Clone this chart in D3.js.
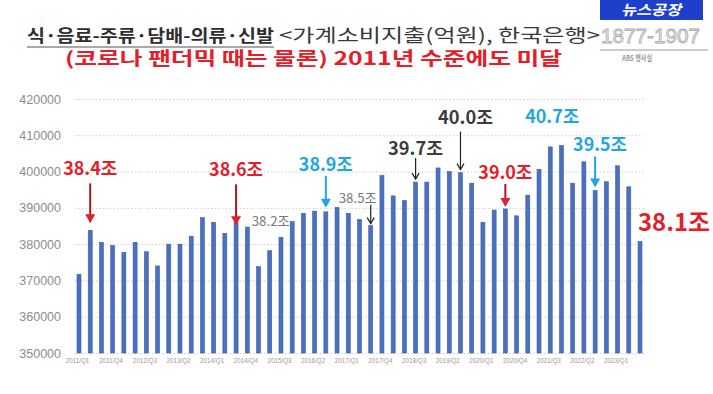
<!DOCTYPE html>
<html>
<head>
<meta charset="utf-8">
<script src="https://cdn.jsdelivr.net/npm/d3@7"></script>
<style>
  html, body { margin: 0; padding: 0; background: #ffffff; }
  svg { display: block; }
</style>
</head>
<body>
<div id="chart"></div>
<script>
// ---------- data ----------
const quarters = [
  "2011/Q1","2011/Q2","2011/Q3","2011/Q4",
  "2012/Q1","2012/Q2","2012/Q3","2012/Q4",
  "2013/Q1","2013/Q2","2013/Q3","2013/Q4",
  "2014/Q1","2014/Q2","2014/Q3","2014/Q4",
  "2015/Q1","2015/Q2","2015/Q3","2015/Q4",
  "2016/Q1","2016/Q2","2016/Q3","2016/Q4",
  "2017/Q1","2017/Q2","2017/Q3","2017/Q4",
  "2018/Q1","2018/Q2","2018/Q3","2018/Q4",
  "2019/Q1","2019/Q2","2019/Q3","2019/Q4",
  "2020/Q1","2020/Q2","2020/Q3","2020/Q4",
  "2021/Q1","2021/Q2","2021/Q3","2021/Q4",
  "2022/Q1","2022/Q2","2022/Q3","2022/Q4",
  "2023/Q1","2023/Q2","2023/Q3"
];
const spending = [
  371700, 383800, 380500, 379600,
  377700, 380500, 377900, 374000,
  380000, 380000, 382200, 387300,
  386000, 383000, 386000, 384700,
  373800, 378200, 381900, 386200,
  388500, 389100, 388900, 390100,
  388500, 386800, 385100, 398900,
  393300, 392000, 397100, 397100,
  401000, 400000, 399700, 396800,
  386000, 389400, 389700, 387800,
  393500, 400600, 406800, 407200,
  396800, 402700, 394800, 397200,
  401600, 395800, 380700
];
const yTicks = [350000, 360000, 370000, 380000, 390000, 400000, 410000, 420000];
const xTickLabels = ["2011/Q1","2011/Q4","2012/Q3","2013/Q2","2014/Q1","2014/Q4","2015/Q3",
  "2016/Q2","2017/Q1","2017/Q4","2018/Q3","2019/Q2","2020/Q1","2020/Q4","2021/Q3","2022/Q2","2023/Q1"];

const titleMain = "식·음료-주류·담배-의류·신발";
const titleSource = "<가계소비지출(억원), 한국은행>";
const subtitle = "(코로나 팬더믹 때는 물론) 2011년 수준에도 미달";

// annotations: bar index + text + style group
const annoIndex = [1, 14, 17, 22, 26, 30, 34, 38, 42, 46, 50];
const annoText  = ["38.4조","38.6조","38.2조","38.9조","38.5조","39.7조","40.0조","39.0조","40.7조","39.5조","38.1조"];
const annoKind  = ["red","red","grey","cyan","greyArrow","dark","dark","red","cyan","cyan","redBig"];

// ---------- layout ----------
const W = 713, H = 394;
const svg = d3.select("#chart").append("svg").attr("width", W).attr("height", H);

const x = d3.scalePoint().domain(quarters).range([79, 640]);
const y = d3.scaleLinear().domain([350000, 420000]).range([353, 99]);

const KR = "'Noto Sans CJK KR', 'Noto Sans', sans-serif";

// gridlines
svg.append("g").selectAll("line").data(yTicks).join("line")
  .attr("x1", 75).attr("x2", 645)
  .attr("y1", d => y(d) + 0.5).attr("y2", d => y(d) + 0.5)
  .attr("stroke", "#cfcfcf").attr("stroke-width", 1)
  .attr("stroke-dasharray", "1.5,2");

// y axis labels
const yAxis = d3.axisLeft(y).tickValues(yTicks).tickSize(0).tickPadding(0).tickFormat(d3.format("d"));
const gy = svg.append("g").attr("transform", "translate(61,0)").call(yAxis);
gy.select(".domain").remove();
gy.selectAll("text").attr("fill", "#8c8c8c")
  .style("font-family", "'Liberation Sans', Arial, sans-serif").style("font-size", "12.5px");

// x axis labels
const xAxis = d3.axisBottom(x).tickValues(xTickLabels).tickSize(0).tickPadding(0);
const gx = svg.append("g").attr("transform", "translate(-2,359)").call(xAxis);
gx.select(".domain").remove();
gx.selectAll("text").attr("fill", "#9a9a9a")
  .style("font-family", "'Liberation Sans', Arial, sans-serif").style("font-size", "6.3px");

// bars
const bw = 4;
svg.append("g").selectAll("rect").data(spending).join("rect")
  .attr("x", (d, i) => x(quarters[i]) - bw / 2)
  .attr("y", d => y(d))
  .attr("width", bw)
  .attr("height", d => y(350000) - y(d))
  .attr("fill", "#4a70bf")
  .attr("stroke", "#3d5ea8").attr("stroke-width", 0.6);

// ---------- annotations ----------
const styles = {
  red:       { color: "#e2202a", size: 18, weight: 700, len: 54, labelDy: -47, a1: -39, a2: -4, arrow: "solid", dx: 0 },
  cyan:      { color: "#21a6e2", size: 18, weight: 700, len: 54, labelDy: -42, a1: -36, a2: -4, arrow: "solid", dx: 0 },
  dark:      { color: "#3c3c3c", size: 18, weight: 700, len: 55, labelDy: -27, a1: -24, a2: -3, arrow: "open", dx: 0 },
  grey:      { color: "#7a7a7a", size: 13, weight: 400, len: 38, labelDy: -25, arrow: null, dx: 1 },
  greyArrow: { color: "#7a7a7a", size: 13, weight: 400, len: 38, labelDy: -23, a1: -21, a2: -2, arrow: "open", dx: -13 },
  redBig:    { color: "#e2202a", size: 24, weight: 700, len: 72, labelDy: -11, arrow: null, dx: 34 }
};
// per-annotation tweaks (layout only)
const tweak = {
  "38.4조": { labelDy: -55, a1: -47, a2: -7 },
  "38.6조": { labelDy: -46, a1: -38, a2: 3 },
  "38.9조": { labelDy: -41, a1: -36, a2: -4 },
  "39.0조": { labelDy: -30, a1: -25, a2: -2 },
  "39.7조": { labelDy: -27, a1: -24, a2: -3 },
  "40.0조": { labelDy: -49, a1: -41, a2: -3, dx: 5 },
  "39.5조": { labelDy: -39, a1: -34, a2: -3, dx: 5 },
  "40.7조": { labelDy: -24, dx: 2, arrow: null }
};

const ag = svg.append("g");
annoIndex.forEach((idx, k) => {
  const txt = annoText[k];
  const st = Object.assign({}, styles[annoKind[k]], tweak[txt] || {});
  const bx = x(quarters[idx]);
  const by = y(spending[idx]);
  ag.append("text")
    .attr("x", bx + st.dx).attr("y", by + st.labelDy)
    .attr("text-anchor", "middle")
    .attr("textLength", st.len).attr("lengthAdjust", "spacingAndGlyphs")
    .attr("fill", st.color)
    .style("font-family", KR).style("font-size", st.size + "px").style("font-weight", st.weight)
    .text(txt);
  if (st.arrow) {
    const y1 = by + st.a1, y2 = by + st.a2;
    const ac = st.arrow === "open" ? "#222" : st.color;
    if (st.arrow === "solid") {
      const hl = 9, hw = 5;
      ag.append("line").attr("x1", bx).attr("x2", bx).attr("y1", y1).attr("y2", y2 - hl + 1)
        .attr("stroke", annoKind[k] === "red" ? "#b0141c" : ac).attr("stroke-width", 2);
      ag.append("path")
        .attr("d", `M${bx - hw},${y2 - hl} L${bx + hw},${y2 - hl} L${bx},${y2} Z`)
        .attr("fill", ac);
    } else {
      ag.append("line").attr("x1", bx).attr("x2", bx).attr("y1", y1).attr("y2", y2)
        .attr("stroke", ac).attr("stroke-width", 1.2);
      ag.append("path")
        .attr("d", `M${bx - 3.5},${y2 - 6} L${bx},${y2} L${bx + 3.5},${y2 - 6}`)
        .attr("fill", "none").attr("stroke", ac).attr("stroke-width", 1.2);
    }
  }
});

// ---------- titles ----------
svg.append("text").attr("x", 27).attr("y", 42)
  .attr("textLength", 247).attr("lengthAdjust", "spacingAndGlyphs")
  .attr("fill", "#2e2e2e")
  .style("font-family", KR).style("font-size", "17px").style("font-weight", 700)
  .text(titleMain);
svg.append("line").attr("x1", 27).attr("x2", 274).attr("y1", 47).attr("y2", 47)
  .attr("stroke", "#555").attr("stroke-width", 1.2);
svg.append("text").attr("x", 279).attr("y", 42)
  .attr("textLength", 321).attr("lengthAdjust", "spacingAndGlyphs")
  .attr("fill", "#3a3a3a")
  .style("font-family", KR).style("font-size", "18px").style("font-weight", 400)
  .text(titleSource);
svg.append("text").attr("x", 65).attr("y", 65)
  .attr("textLength", 497).attr("lengthAdjust", "spacingAndGlyphs")
  .attr("fill", "#e2202a")
  .style("font-family", KR).style("font-size", "18px").style("font-weight", 700)
  .text(subtitle);

// ---------- logo (top-right) ----------
svg.append("rect").attr("x", 600).attr("y", 0).attr("width", 103).attr("height", 20).attr("fill", "#1e3fcc");
svg.append("text").attr("x", 651).attr("y", 15).attr("text-anchor", "middle")
  .attr("textLength", 60).attr("lengthAdjust", "spacingAndGlyphs")
  .attr("fill", "#ffffff").style("font-family", KR).style("font-size", "14px")
  .style("font-weight", 700).style("font-style", "italic").text("뉴스공장");
svg.append("text").attr("x", 601).attr("y", 43)
  .attr("textLength", 99).attr("lengthAdjust", "spacingAndGlyphs")
  .attr("fill", "#f4f4f4").attr("stroke", "#a8a8a8").attr("stroke-width", 0.8)
  .style("font-family", "'Liberation Sans', Arial, sans-serif").style("font-size", "20px")
  .text("1877-1907");
svg.append("line").attr("x1", 600).attr("x2", 708).attr("y1", 50).attr("y2", 50)
  .attr("stroke", "#9a9a9a").attr("stroke-width", 1);
svg.append("text").attr("x", 637).attr("y", 61).attr("text-anchor", "middle")
  .attr("textLength", 30).attr("lengthAdjust", "spacingAndGlyphs")
  .attr("fill", "#9a9a9a").style("font-family", KR).style("font-size", "8px").style("font-weight", 700)
  .text("ABS 행사실");
</script>
</body>
</html>
